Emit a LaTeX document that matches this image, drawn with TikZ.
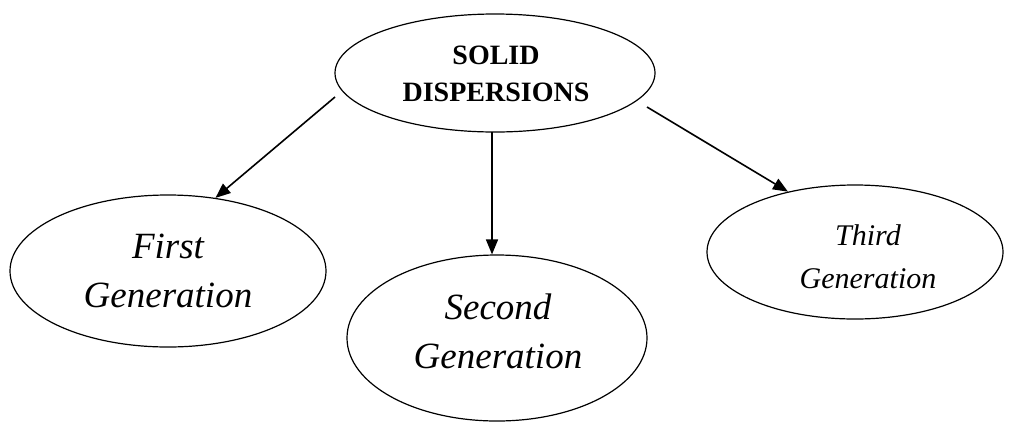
\documentclass[tikz,border=0pt]{standalone}
\usepackage{fontspec}
\setmainfont{Liberation Serif}
\usetikzlibrary{arrows.meta,shapes.geometric}
\begin{document}
\begin{tikzpicture}[x=1pt,y=-1pt,
  oval/.style={draw, ellipse, line width=1.2pt, inner sep=0pt},
  toptext/.style={align=center, font=\bfseries\fontsize{28}{37}\selectfont, inner sep=0pt},
  gentext/.style={align=center, font=\itshape\fontsize{37}{49}\selectfont, inner sep=0pt},
  smalltext/.style={align=center, font=\itshape\fontsize{30}{43}\selectfont, inner sep=0pt},
  arr/.style={line width=1.6pt, -{Triangle[length=15pt,width=12pt]}}
]
\useasboundingbox (0,0) rectangle (1019,424);
\node[oval, minimum width=320pt, minimum height=118pt] (top) at (495,73) {};
\node[toptext] (toplabel) at (496,74) {SOLID\\DISPERSIONS};
\node[oval, minimum width=316pt, minimum height=152pt] (first) at (168,271) {};
\node[gentext] (firstlabel) at (168,271) {First\\Generation};
\node[oval, minimum width=300pt, minimum height=166pt] (second) at (497,338) {};
\node[gentext] (secondlabel) at (498,331) {Second\\Generation};
\node[oval, minimum width=296pt, minimum height=134pt] (third) at (855,252) {};
\node[smalltext] (thirdlabel) at (868,257) {Third\\Generation};
\coordinate (a1) at (335,97);
\coordinate (a2) at (492,132);
\coordinate (a3) at (647,107);
\draw[arr] (a1) -- (first.57);
\draw[arr] (a2) -- (a2 |- second.north);
\draw[arr] (a3) -- (third.138);
\end{tikzpicture}
\end{document}
